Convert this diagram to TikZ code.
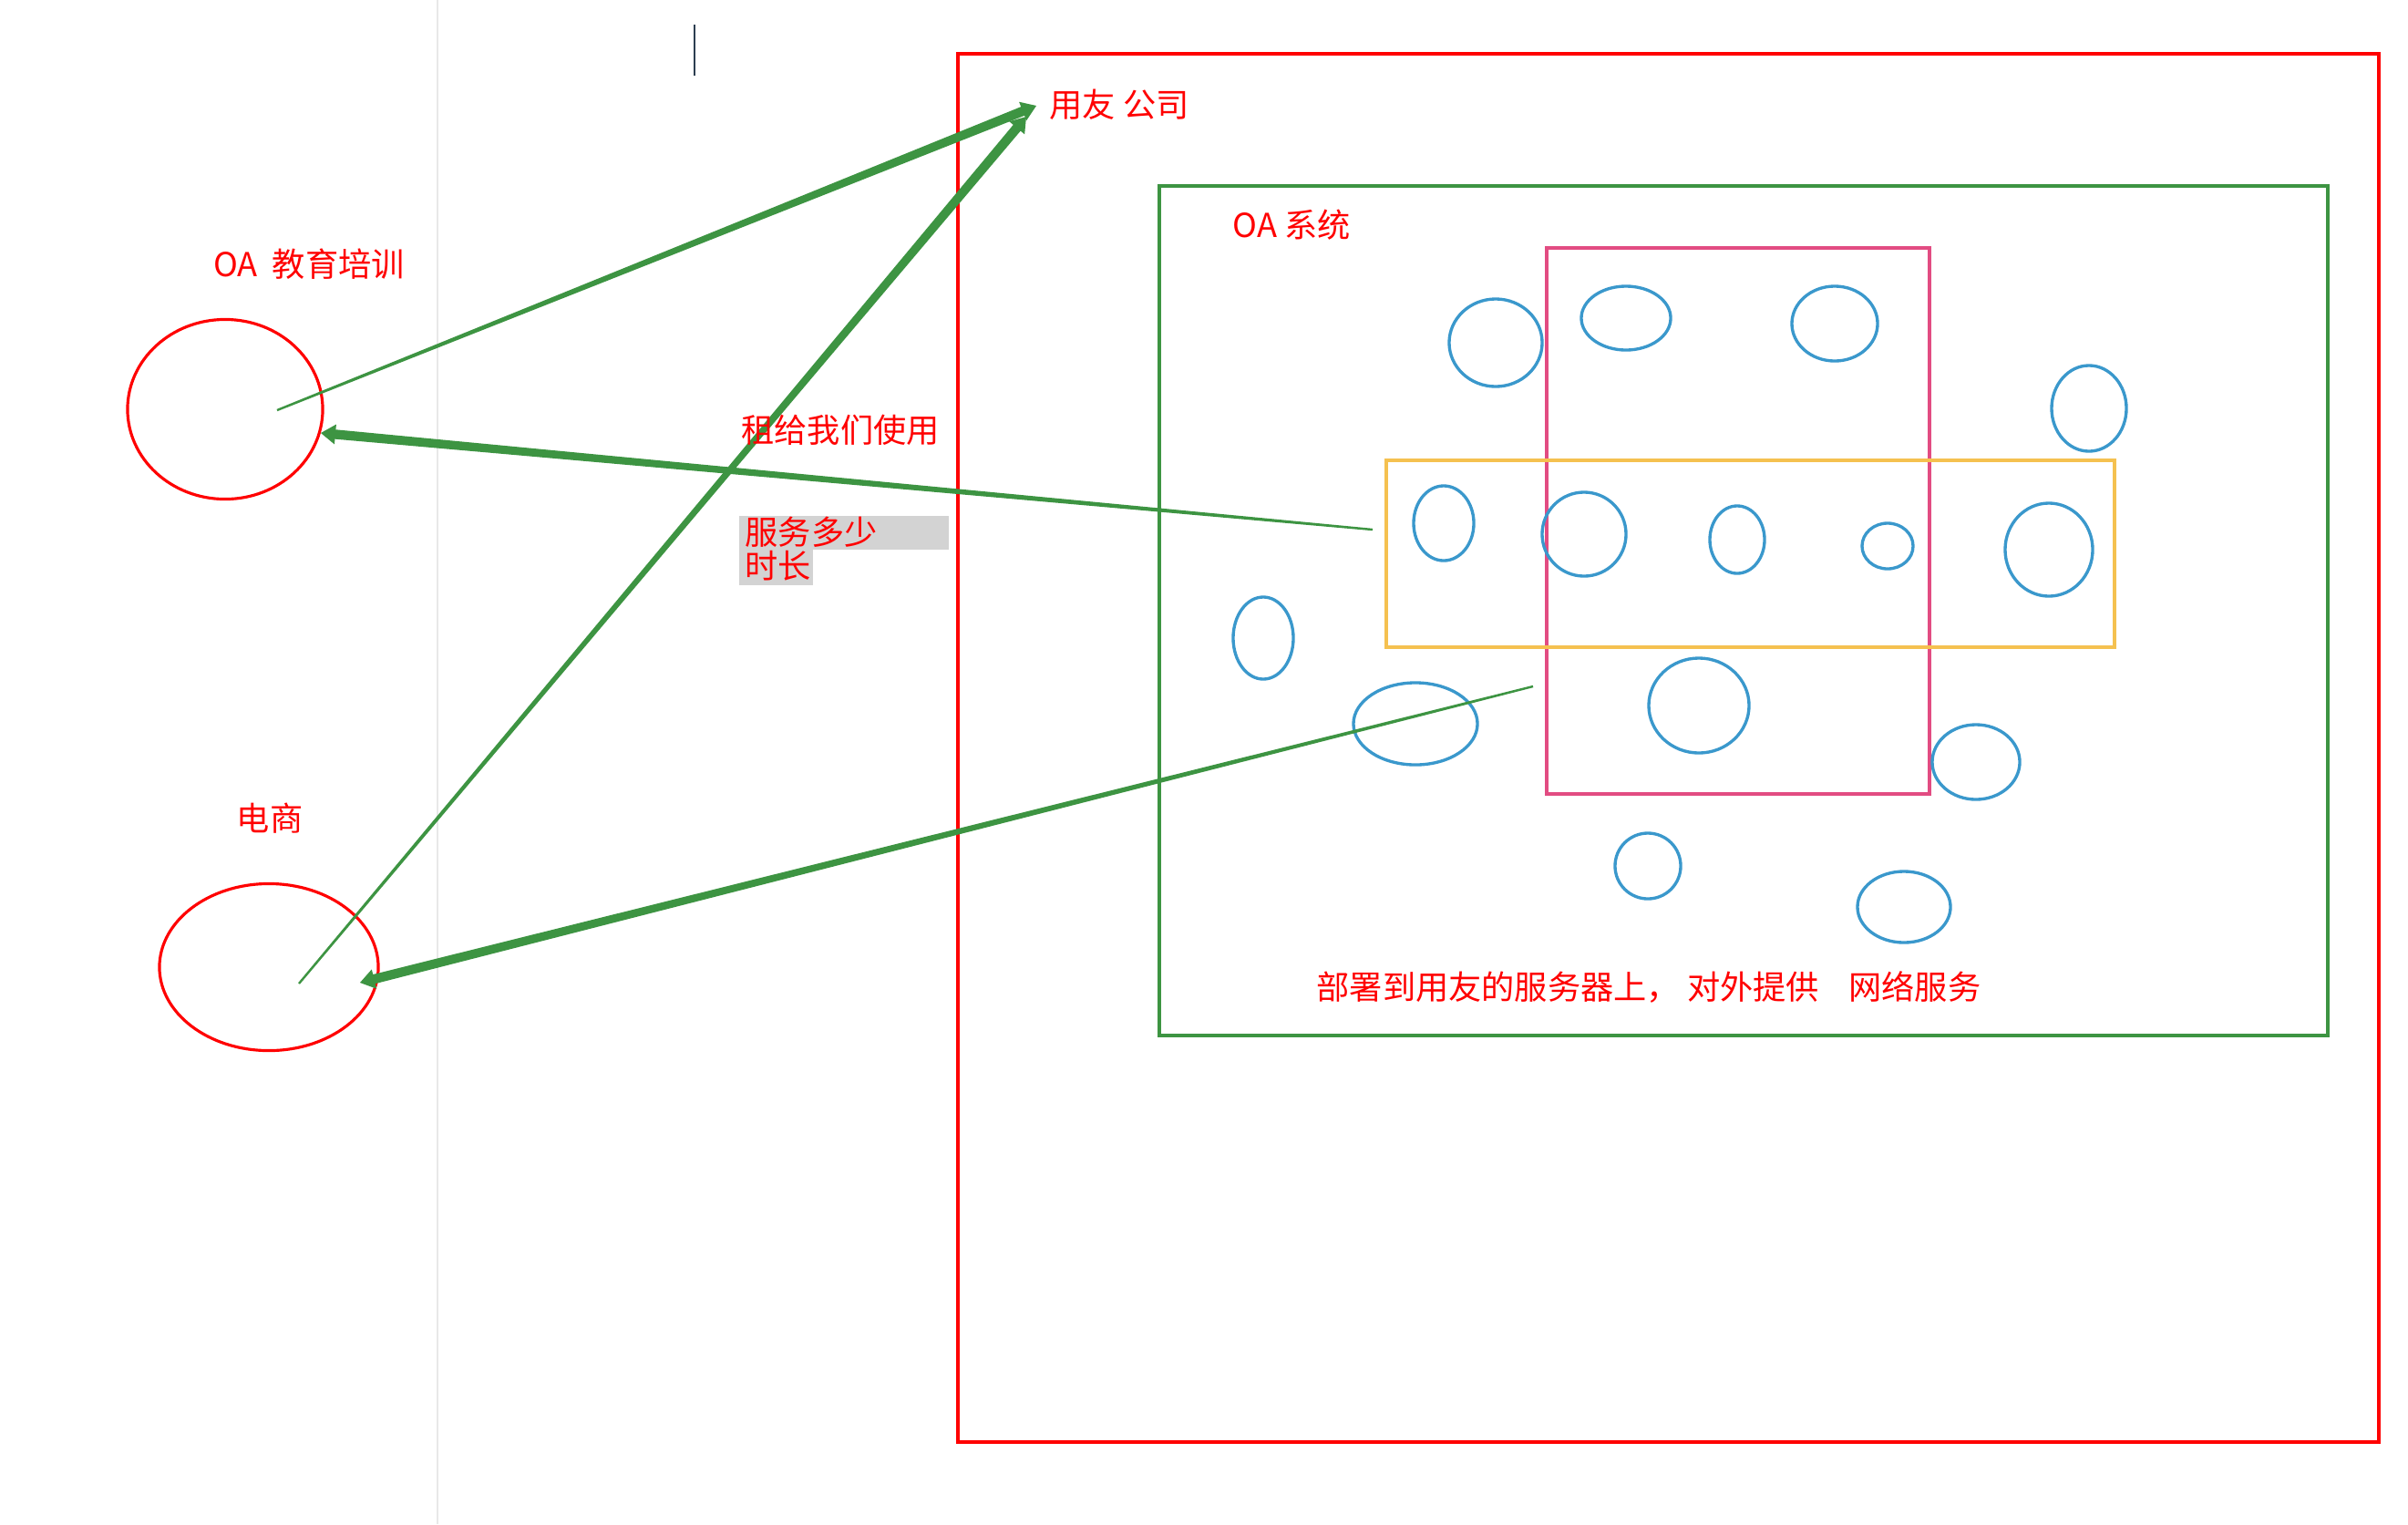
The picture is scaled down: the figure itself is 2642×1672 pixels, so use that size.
\documentclass[tikz,border=0pt]{standalone}
\usepackage{fontspec}
\setmainfont{Noto Sans CJK SC}
\usetikzlibrary{calc,positioning,shapes.geometric}
\definecolor{flowgreen}{RGB}{61,148,66}
\definecolor{blobblue}{RGB}{58,152,204}
\definecolor{pinkline}{RGB}{226,76,130}
\definecolor{orangeline}{RGB}{245,193,80}
\definecolor{hlgray}{RGB}{211,211,211}
\definecolor{rulegray}{RGB}{232,232,232}
\definecolor{caret}{RGB}{44,62,80}
% thin at the tail, thick at the head
\newcommand{\taperarrow}[2]{%
  \coordinate (hb) at ($(#2)!1.6mm!(#1)$);
  \fill[flowgreen] ($(#1)!0.12mm!90:(#2)$) -- ($(hb)!0.52mm!-90:(#1)$)
    -- ($(hb)!1.1mm!-90:(#1)$) -- (#2) -- ($(hb)!1.1mm!90:(#1)$)
    -- ($(hb)!0.52mm!90:(#1)$) -- ($(#1)!0.12mm!-90:(#2)$) -- cycle;}

\begin{document}
\begin{tikzpicture}[x=0.01cm,y=-0.01cm,
    lbl/.style={text=red,font=\fontsize{10.3pt}{12.4pt}\selectfont,inner sep=0pt},
    frame/.style={line width=0.9pt},
    blob/.style={draw=blobblue,line width=0.95pt},
    client/.style={ellipse,draw=red,line width=0.9pt,inner sep=0pt}]
  \useasboundingbox (0,0) rectangle (2642,1672);
  \fill[white] (0,0) rectangle (2642,1672);
  \draw[rulegray,line width=0.5pt] (480,0) -- (480,1672);
  \draw[caret,line width=0.6pt] (762,27) -- (762,83);
  % clients
  \node[client,minimum width=2.14cm,minimum height=1.97cm] (oa) at (247,449) {};
  \node[client,minimum width=2.40cm,minimum height=1.83cm] (shop) at (295,1061) {};
  \node[lbl] (oaname) at (339,290) {OA\ \ 教育培训};
  \node[lbl] (shopname) at (296,898) {电商};
  % yonyou
  \draw[red,frame] (1051,59) rectangle (2610,1582);
  \node[lbl] (yy) at (1228,115) {用友 公司};
  \draw[flowgreen,frame] (1272,204) rectangle (2554,1136);
  \node[lbl] (oasys) at (1417,247) {OA 系统};
  \draw[pinkline,frame] (1697,272) rectangle (2117,871);
  \draw[orangeline,frame] (1521,505) rectangle (2320,710);
  \foreach \x/\y/\rx/\ry in {1641/376/5.1/4.8, 1784/349/4.9/3.5, 2013/355/4.7/4.1,
      2292/448/4.1/4.7, 1584/574/3.3/4.1, 1738/586/4.6/4.6, 1906/592/3.0/3.7,
      2071/599/2.8/2.5, 2248/603/4.8/5.1, 1386/700/3.3/4.5, 1553/794/6.8/4.5,
      1864/774/5.5/5.2, 2168/836/4.8/4.1, 1808/950/3.6/3.6, 2089/995/5.1/3.9}
    \draw[blob] (\x,\y) ellipse [x radius=\rx mm, y radius=\ry mm];
  \node[lbl] (deploy) at (1809,1083) {部署到用友的服务器上，\ 对外提供\ \ \ \ 网络服务};
  % notes in the middle
  \fill[hlgray] (811,566) rectangle (1041,603);
  \fill[hlgray] (811,603) rectangle (892,642);
  \node[lbl,anchor=west] (howmuch) at (817,584) {服务多少};
  \node[lbl,anchor=west] (howlong) at (817,621) {时长};
  % flows
  \coordinate (oaOut) at (304,450);
  \coordinate (shopOut) at (328,1079);
  \coordinate (yyInA) at (1137,116);
  \coordinate (yyInB) at (1126,128);
  \coordinate (srvA) at (1506,581);
  \coordinate (srvB) at (1682,753);
  \coordinate (oaIn) at (352,475);
  \coordinate (shopIn) at (395,1078);
  \taperarrow{oaOut}{yyInA}
  \taperarrow{shopOut}{yyInB}
  \taperarrow{srvA}{oaIn}
  \taperarrow{srvB}{shopIn}
  \node[lbl] (rent) at (922,472) {租给我们使用};
\end{tikzpicture}
\end{document}
